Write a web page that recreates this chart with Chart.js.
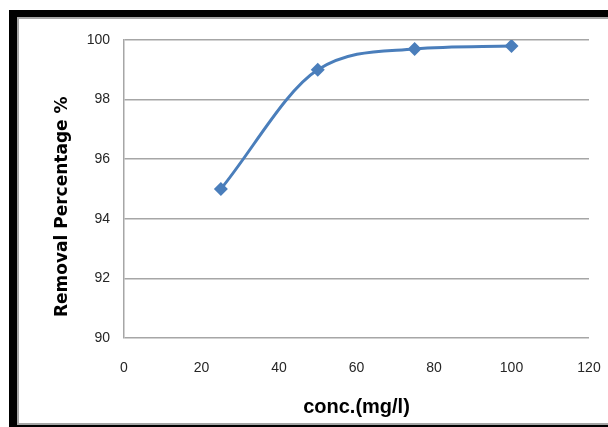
<!DOCTYPE html>
<html>
<head>
<meta charset="utf-8">
<script src="https://cdn.jsdelivr.net/npm/chart.js@4/dist/chart.umd.min.js"></script>
<style>
  html, body { margin: 0; padding: 0; background: #fff; }
  #wrap { position: relative; width: 608px; height: 427px; overflow: hidden; }
  #frame {
    position: absolute; left: 9px; top: 10px; width: 620px; height: 417px;
    border-left: 8px solid #000; border-top: 7px solid #000; border-bottom: 2px solid #000;
    box-sizing: border-box;
  }
  #inner {
    position: absolute; left: 0; top: 0; right: 0; bottom: 0;
    border-left: 2px solid #a6a6a6; border-top: 2px solid #a6a6a6; border-bottom: 2px solid #a6a6a6;
  }
  canvas { position: absolute; left: 0; top: 0; }
</style>
</head>
<body>
<div id="wrap">
  <div id="frame"><div id="inner"></div></div>
  <canvas id="removalChart" width="608" height="427"></canvas>
</div>
<script>
// concentration (mg/l) and removal percentage
const concentrations = [25, 50, 75, 100];
const removalPct = [95, 99, 99.7, 99.8];

const xTicks = [0, 20, 40, 60, 80, 100, 120];
const yTicks = [90, 92, 94, 96, 98, 100];

const lineBlue = '#4a7ebb';
const tickFont = { family: '"Liberation Sans Narrow", "Liberation Sans", Arial, sans-serif', size: 14 };

const ctx = document.getElementById('removalChart').getContext('2d');

const data = {
    datasets: [{
        label: 'Removal %',
        data: concentrations.map((c, i) => ({ x: c, y: removalPct[i] })),
        borderColor: lineBlue,
        backgroundColor: lineBlue,
        borderWidth: 3,
        cubicInterpolationMode: 'monotone',
        pointStyle: 'rectRot',
        pointRadius: 7,
        pointHoverRadius: 7,
        pointBorderWidth: 0
    }]
};

const config = {
    type: 'line',
    data: data,
    options: {
        responsive: false,
        animation: false,
        layout: { padding: { left: 0, right: 19, top: 40, bottom: 0 } },
        scales: {
            x: {
                type: 'linear',
                min: xTicks[0],
                max: xTicks[xTicks.length - 1],
                afterBuildTicks: axis => { axis.ticks = xTicks.map(v => ({ value: v })); },
                afterFit: axis => {
                    axis.height = 89;
                    axis.paddingLeft = 0;
                    axis.paddingRight = 12;
                },
                grid: { display: false, drawTicks: false },
                border: { display: false },
                ticks: { color: '#262626', font: tickFont, padding: 22, maxRotation: 0 },
                title: {
                    display: true,
                    text: 'conc.(mg/l)',
                    color: '#000',
                    font: { family: '"Liberation Sans", Arial, sans-serif', size: 20, weight: 'bold' },
                    padding: { top: 0, bottom: 8 }
                }
            },
            y: {
                min: yTicks[0],
                max: yTicks[yTicks.length - 1],
                afterBuildTicks: axis => { axis.ticks = yTicks.map(v => ({ value: v })); },
                afterFit: axis => { axis.width = 124; },
                grid: { color: '#a6a6a6', lineWidth: 1.5, drawTicks: false },
                border: { color: '#a6a6a6', width: 1.5 },
                ticks: { color: '#262626', font: tickFont, padding: 14 },
                title: {
                    display: true,
                    // trailing spaces push the rotated title a little lower, as in the original
                    text: 'Removal Percentage %\u00a0\u00a0\u00a0\u00a0\u00a0\u00a0',
                    color: '#000',
                    font: { family: '"DejaVu Sans", sans-serif', size: 17, weight: 'bold' },
                    padding: { top: 52, bottom: 0 }
                }
            }
        },
        plugins: {
            legend: { display: false },
            tooltip: { enabled: false }
        }
    }
};

const removalChart = new Chart(ctx, config);
</script>
</body>
</html>
